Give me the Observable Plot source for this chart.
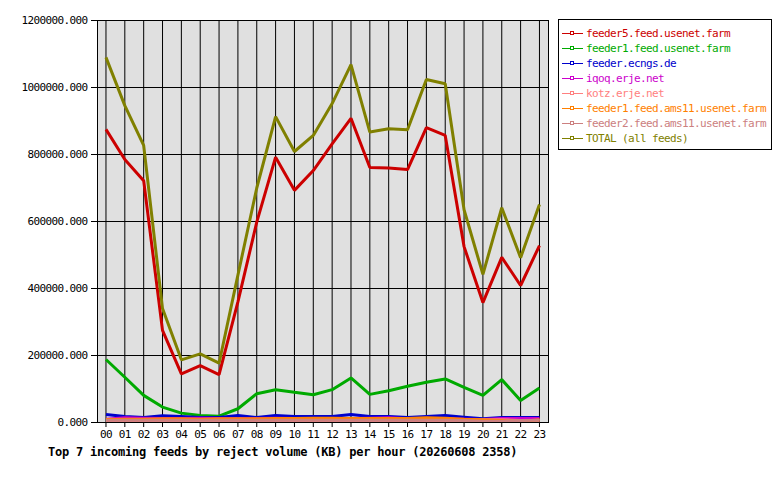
<!DOCTYPE html>
<html>
<head>
<meta charset="utf-8">
<script src="https://cdn.jsdelivr.net/npm/d3@7"></script>
<script src="https://cdn.jsdelivr.net/npm/@observablehq/plot@0.6"></script>
<style>
  html, body { margin: 0; padding: 0; background: #ffffff; }
  #wrap { position: relative; width: 780px; height: 480px; overflow: hidden; background: #fff; }
  #chart { position: absolute; left: 0; top: 0; }
  #chart svg { font-family: "DejaVu Sans Mono", "Liberation Mono", monospace; font-size: 11px; letter-spacing: -0.62px; color: #000; }
  #legend { position: absolute; left: 558px; top: 19px; width: 214px; height: 131px; border: 1px solid #000; background: #fff;
            font-family: "DejaVu Sans Mono", "Liberation Mono", monospace; font-size: 11px; letter-spacing: -0.62px; box-sizing: border-box; padding-top: 6px; }
  .row { height: 15px; line-height: 15px; display: flex; align-items: center; white-space: nowrap; }
  .row svg { margin-left: 3px; margin-right: 3px; flex: none; }
  #title { position: absolute; left: 48px; top: 445px; font-family: "DejaVu Sans Mono", "Liberation Mono", monospace; font-weight: bold; font-size: 12px; letter-spacing: -0.22px; white-space: nowrap; color: #000; }
</style>
</head>
<body>
<div id="wrap">
  <div id="chart"></div>
  <div id="legend"></div>
  <div id="title"></div>
</div>
<script>
// ---- data ----
const hours = ["00","01","02","03","04","05","06","07","08","09","10","11","12","13","14","15","16","17","18","19","20","21","22","23"];
const seriesNames = [
  "feeder5.feed.usenet.farm",
  "feeder1.feed.usenet.farm",
  "feeder.ecngs.de",
  "iqoq.erje.net",
  "kotz.erje.net",
  "feeder1.feed.ams11.usenet.farm",
  "feeder2.feed.ams11.usenet.farm",
  "TOTAL (all feeds)"
];
const feeder5 = [875000, 785000, 722000, 275000, 145000, 170000, 143000, 360000, 598000, 792000, 693000, 752000, 832000, 908000, 761000, 760000, 755000, 880000, 857000, 525000, 358000, 493000, 409000, 528000];
const feeder1 = [188000, 135000, 81000, 46000, 28000, 21000, 19000, 41000, 86000, 98000, 90000, 83000, 98000, 133000, 84000, 95000, 108000, 120000, 130000, 105000, 81000, 128000, 66000, 103000];
const ecngs   = [24000, 18000, 15000, 20000, 18000, 15000, 15000, 21000, 15000, 21000, 18000, 18000, 18000, 24000, 18000, 18000, 15000, 18000, 21000, 16000, 11000, 15000, 15000, 15000];
const iqoq    = [10000, 14000, 13000, 12000, 12000, 13000, 12000, 11000, 12000, 13000, 12000, 11000, 12000, 12000, 13000, 14000, 11000, 10000, 11000, 10000, 9000, 12000, 12000, 12000];
const kotz    = [6000, 6000, 6000, 6000, 6000, 6000, 6000, 6000, 6000, 6000, 6000, 6000, 6000, 6000, 6000, 6000, 6000, 6000, 6000, 7000, 8000, 8000, 6000, 6000];
const ams11a  = [9000, 10000, 10000, 11000, 11000, 10000, 11000, 11000, 11000, 12000, 12000, 13000, 13000, 12000, 12000, 12000, 12000, 14000, 13000, 10000, 8000, 6000, 3000, 8000];
const ams11b  = [7000, 7000, 7000, 7000, 7000, 7000, 7000, 7000, 7000, 7000, 7000, 7000, 7000, 7000, 7000, 7000, 7000, 7000, 7000, 6000, 4000, 4000, 6000, 7000];
const total   = [1090000, 946000, 827000, 340000, 187000, 205000, 177000, 440000, 700000, 913000, 809000, 857000, 952000, 1068000, 867000, 877000, 874000, 1024000, 1011000, 635000, 442000, 641000, 492000, 651000];
const yTicks = [0, 200000, 400000, 600000, 800000, 1000000, 1200000];
const titleText = "Top 7 incoming feeds by reject volume (KB) per hour (20260608 2358)";

// ---- styles ----
const colors = ["#cc0000", "#00aa00", "#0000cc", "#cc00cc", "#ff8080", "#ff8000", "#cc8080", "#808000"];
const seriesValues = [feeder5, feeder1, ecngs, iqoq, kotz, ams11a, ams11b, total];

const rows = seriesValues.flatMap((vals, s) => vals.map((v, h) => ({hour: h, value: v, name: seriesNames[s]})));

const chart = Plot.plot({
  width: 560,
  height: 440,
  marginLeft: 97,
  marginRight: 12,
  marginTop: 20,
  marginBottom: 18,
  style: {background: "transparent", color: "#000"},
  x: {type: "linear", domain: [-0.45, 23.48], ticks: d3.range(24), tickFormat: d => hours[d], tickSize: 5, tickPadding: 3, label: null},
  y: {domain: [0, 1200000], ticks: yTicks, tickFormat: d => d.toFixed(3), tickSize: 6, tickPadding: 4, label: null},
  color: {domain: seriesNames, range: colors},
  marks: [
    Plot.frame({fill: "#e0e0e0", stroke: null}),
    Plot.gridX(d3.range(24), {stroke: "#000", strokeOpacity: 1, strokeWidth: 1}),
    Plot.gridY(yTicks, {stroke: "#000", strokeOpacity: 1, strokeWidth: 1}),
    ...seriesNames.map(name => Plot.line(rows.filter(r => r.name === name), {x: "hour", y: "value", stroke: "name", strokeWidth: 3, strokeLinejoin: "miter", strokeLinecap: "butt"})),
    Plot.frame({stroke: "#000", strokeWidth: 1}),
    Plot.axisX({ticks: d3.range(24), tickFormat: d => hours[d], tickSize: 5, tickPadding: 3, label: null}),
    Plot.axisY({ticks: yTicks, tickFormat: d => d.toFixed(3), tickSize: 6, tickPadding: 4, label: null})
  ]
});
document.getElementById("chart").appendChild(chart);

// ---- legend ----
const legend = document.getElementById("legend");
seriesNames.forEach((name, i) => {
  const row = document.createElement("div");
  row.className = "row";
  row.innerHTML = `<svg width="21" height="7" viewBox="0 0 21 7"><line x1="0" x2="21" y1="3.5" y2="3.5" stroke="${colors[i]}" stroke-width="1"/><rect x="8.5" y="1.5" width="3" height="3" fill="#fff" stroke="${colors[i]}" stroke-width="1"/></svg>`;
  const span = document.createElement("span");
  span.textContent = name;
  span.style.color = colors[i];
  row.appendChild(span);
  legend.appendChild(row);
});
document.getElementById("title").textContent = titleText;
</script>
</body>
</html>
